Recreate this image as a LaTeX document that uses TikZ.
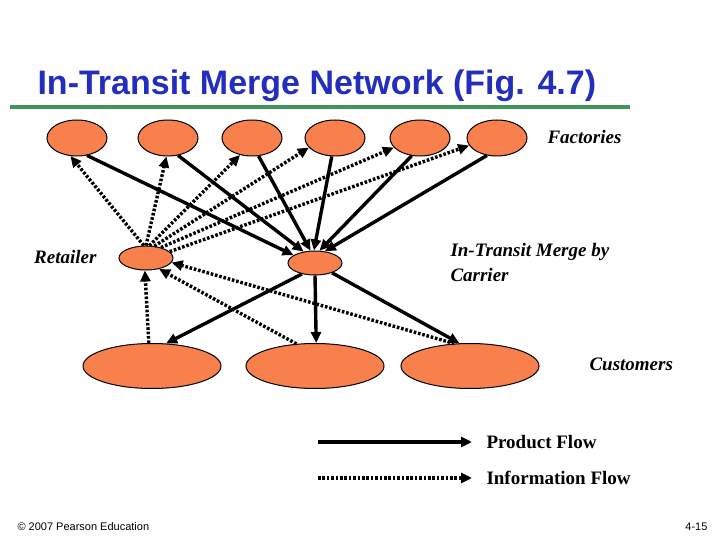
\documentclass[tikz,border=0pt]{standalone}
\usepackage{fontspec}
\setmainfont{Liberation Serif}
\setsansfont{Liberation Sans}
\usetikzlibrary{arrows.meta,shapes.geometric}
\definecolor{orng}{RGB}{247,128,76}
\definecolor{grn}{RGB}{64,150,90}
\definecolor{ttl}{RGB}{35,45,190}
\tikzset{
 site/.style={ellipse,draw=black,line width=1pt,fill=orng,inner sep=0pt},
 prod/.style={line width=3.4pt,-{Triangle[length=11pt,width=10pt]}},
 info/.style={line width=3.4pt,dash pattern=on 2.6pt off 1.8pt,-{Triangle[length=11pt,width=10pt]}},
 lbl/.style={font=\bfseries\itshape\fontsize{19}{25}\selectfont,align=left}
}
\begin{document}
\begin{tikzpicture}[x=1pt,y=-1pt]
\useasboundingbox (0,0) rectangle (720,540);
\node[font=\sffamily\bfseries\fontsize{34}{40}\selectfont,text=ttl,anchor=west] (title) at (34,86) {In-Transit Merge Network (Fig. 4.7)};
\draw[grn,line width=3.5pt] (10,107) -- (630,107);
\foreach \n/\x in {f1/77,f2/168,f3/252,f4/335,f5/420,f6/497}
 \node[site,minimum width=60pt,minimum height=36pt] (\n) at (\x,138) {};
\node[site,minimum width=54pt,minimum height=24pt] (r) at (146,258) {};
\node[site,minimum width=54pt,minimum height=24pt] (c) at (315,263) {};
\foreach \n/\x in {k1/152,k2/315,k3/470}
 \node[site,minimum width=138pt,minimum height=45pt] (\n) at (\x,366) {};
% product
\draw[prod] (f1.-60) -- (c.160);
\draw[prod] (f2.-60) -- (c.135);
\draw[prod] (f3.-70) -- (c.110);
\draw[prod] (f4.-100) -- (c.95);
\draw[prod] (f5.-115) -- (c.70);
\draw[prod] (f6.-120) -- (c.50);
\draw[prod] (c.-140) -- (k1.58);
\draw[prod] (c.-90) -- (k2.87);
\draw[prod] (c.-30) -- (k3.115);
% info
\draw[info] (r.100) -- (f1.-110);
\draw[info] (r.90) -- (f2.-95);
\draw[info] (r.75) -- (f3.-125);
\draw[info] (r.55) -- (f4.-160);
\draw[info] (r.35) -- (f5.-160);
\draw[info] (r.15) -- (f6.-165);
\draw[info] (k1.98) -- (r.-95);
\draw[info] (k2.130) -- (r.-40);
\draw[info] (k3.125) -- (r.-10);
% labels
\node[lbl,anchor=west] (lf) at (544,137) {Factories};
\node[lbl,anchor=east] (lr) at (100,257) {Retailer};
\node[lbl,anchor=west] (lc) at (447,263) {In-Transit Merge by\\Carrier};
\node[lbl,anchor=west] (lk) at (586,364) {Customers};
% legend
\coordinate (p1) at (318,442); \coordinate (p2) at (472,442);
\coordinate (i1) at (318,478); \coordinate (i2) at (472,478);
\draw[prod] (p1) -- (p2);
\draw[info] (i1) -- (i2);
\node[font=\bfseries\fontsize{19}{23}\selectfont,anchor=west] (lp) at (483,442) {Product Flow};
\node[font=\bfseries\fontsize{19}{23}\selectfont,anchor=west] (li) at (483,478) {Information Flow};
\node[font=\sffamily\fontsize{11}{13}\selectfont,anchor=west] (cp) at (14,527) {© 2007 Pearson Education};
\node[font=\sffamily\fontsize{11}{13}\selectfont,anchor=east] (pg) at (711,527) {4-15};
\end{tikzpicture}
\end{document}
